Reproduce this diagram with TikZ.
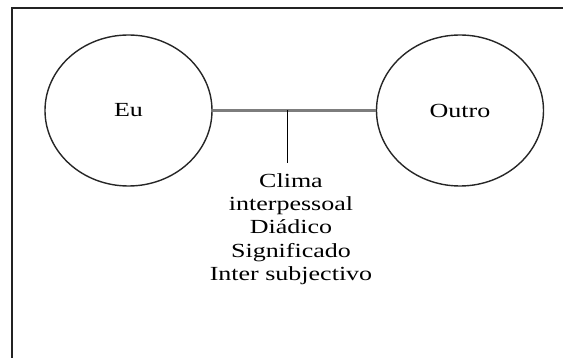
\documentclass[tikz,border=0pt]{standalone}
\usepackage{fontspec}
\setmainfont{Liberation Serif}
\newfontfamily\wordfont[FakeStretch=1.3]{Liberation Serif}
\usepackage{tikz}
\usetikzlibrary{positioning,calc,shapes.geometric}
\usepackage[x11names]{xcolor}
\definecolor{framecolor}{RGB}{35, 35, 35}
\definecolor{barcolor}{RGB}{125, 125, 125}

\begin{document}
\begin{tikzpicture}[x=1pt, y=-1pt,
    person/.style={ellipse, draw=black!85, line width=1.4pt, minimum width=167pt, minimum height=151pt, font=\wordfont\fontsize{20}{23.3}\selectfont},
    words/.style={align=center, inner sep=0pt, font=\wordfont\fontsize{20}{23.3}\selectfont}]
    % page size (frame runs off the right and bottom edges)
    \useasboundingbox (0,0) rectangle (563,358);
    \clip (0,0) rectangle (563,358);
    \draw[framecolor, line width=2pt] (12,370) -- (12,8) -- (570,8);

    % the two persons
    \node[person] (eu) at (128.5,110.5) {Eu};
    \node[person] (outro) at (460,110.5) {Outro};

    % bar between them
    \draw[barcolor, line width=2.2pt] (eu.east) -- (outro.west);

    % stem down to the label
    \coordinate (tee) at (287.7,110.5);
    \coordinate (teeend) at (287.7,163);
    \draw[black, line width=1.4pt] (tee) -- (teeend);

    % label under the stem
    \node[words, anchor=north] (clima) at (291,173.3) {Clima\\interpessoal\\Diádico\\Significado\\Inter subjectivo};
\end{tikzpicture}
\end{document}
